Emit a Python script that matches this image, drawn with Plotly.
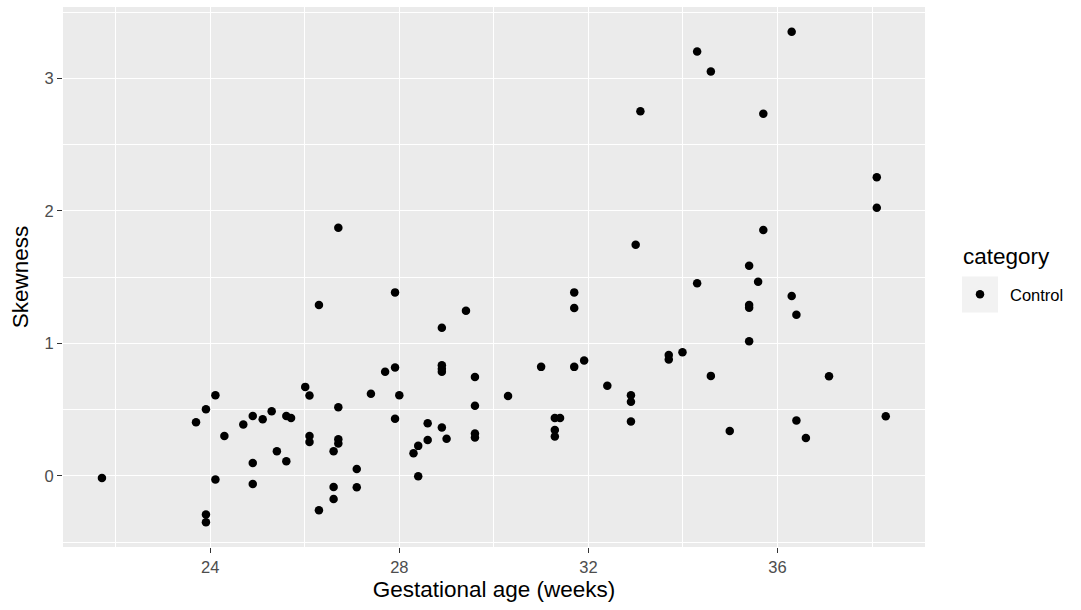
import plotly.graph_objects as go

# Gestational age (weeks) and skewness values
gest_age = [
    21.71, 26.30, 23.70, 23.91, 24.11, 24.30, 24.11, 23.91, 23.91, 24.70,
    24.90, 25.11, 25.30, 24.90, 24.90, 25.41, 25.61, 25.61, 25.71, 26.01,
    26.10, 26.10, 26.10, 26.30, 26.61, 26.61, 26.61, 26.71, 26.71, 26.71,
    27.10, 27.10, 26.71,
    27.91, 29.41, 28.90, 27.70, 27.91, 27.40, 28.00, 27.91, 28.90, 28.90,
    28.90, 29.60, 29.60, 29.60, 29.60, 28.60, 28.90, 29.00, 28.60, 28.40,
    28.30, 28.40, 30.30, 31.00, 31.70, 31.70, 31.70, 31.91, 32.40, 32.90,
    32.90, 32.90, 31.29, 31.40, 31.29, 31.29, 33.10, 33.00,
    36.30, 34.30, 34.59, 35.70, 38.10, 38.10, 35.70, 35.40, 34.30, 35.59,
    36.30, 35.40, 35.40, 36.40, 35.40, 33.99, 33.70, 33.70, 34.59, 37.09,
    38.29, 34.99, 36.40, 36.60,
]
skewness = [
    -0.015, 1.289, 0.406, 0.504, 0.609, 0.302, -0.027, -0.290, -0.350, 0.388,
    0.453, 0.428, 0.489, 0.098, -0.060, 0.186, 0.111, 0.453, 0.438, 0.672,
    0.607, 0.302, 0.257, -0.259, 0.186, -0.083, -0.174, 0.519, 0.277, 0.245,
    0.053, -0.085, 1.873,
    1.385, 1.246, 1.118, 0.786, 0.819, 0.620, 0.609, 0.431, 0.836, 0.808,
    0.786, 0.746, 0.529, 0.320, 0.290, 0.398, 0.366, 0.280, 0.272, 0.227,
    0.171, -0.002, 0.604, 0.823, 1.385, 1.267, 0.823, 0.871, 0.680, 0.609,
    0.559, 0.411, 0.438, 0.438, 0.347, 0.298, 2.752, 1.745,
    3.351, 3.202, 3.051, 2.732, 2.254, 2.024, 1.856, 1.586, 1.453, 1.466,
    1.357, 1.289, 1.269, 1.216, 1.017, 0.934, 0.912, 0.879, 0.755, 0.753,
    0.451, 0.340, 0.418, 0.287,
]
category_name = "Control"
legend_title = "category"
x_ticks = [24, 28, 32, 36]
y_ticks = [0, 1, 2, 3]

W, H = 1081, 610
ml, mr, mt, mb = 63, 156, 7, 63
pw, ph = W - ml - mr, H - mt - mb

def px2paper_x(px):
    return (px - ml) / pw

def px2paper_y(py):
    return (H - mb - py) / ph

font_family = "Liberation Sans, Arial, sans-serif"
TICK_SIZE = 16.5
TITLE_SIZE = 22.5

fig = go.Figure()
fig.add_trace(go.Scatter(
    x=gest_age, y=skewness, mode="markers", name=category_name,
    marker=dict(color="black", size=8.5, line=dict(width=0)),
    showlegend=True,
))

fig.update_layout(
    width=W, height=H,
    margin=dict(l=ml, r=mr, t=mt, b=mb, pad=0),
    paper_bgcolor="white",
    plot_bgcolor="#EBEBEB",
    font=dict(family=font_family, color="#4D4D4D"),
    xaxis=dict(
        range=[20.886, 39.12],
        tickvals=x_ticks, ticktext=[str(v) for v in x_ticks],
        showgrid=True, gridcolor="white", gridwidth=1.2,
        minor=dict(tickvals=[22, 26, 30, 34, 38], showgrid=True,
                   gridcolor="white", gridwidth=0.6, ticks=""),
        zeroline=False, showline=False,
        ticks="outside", ticklen=5, tickcolor="#333333", tickwidth=1.1,
        tickfont=dict(size=TICK_SIZE, color="#4D4D4D"),
        title=dict(text="Gestational age (weeks)",
                   font=dict(size=TITLE_SIZE, color="black"), standoff=6),
    ),
    yaxis=dict(
        range=[-0.536, 3.538],
        tickvals=y_ticks, ticktext=[str(v) for v in y_ticks],
        showgrid=True, gridcolor="white", gridwidth=1.2,
        minor=dict(tickvals=[-0.5, 0.5, 1.5, 2.5, 3.5], showgrid=True,
                   gridcolor="white", gridwidth=0.6, ticks=""),
        zeroline=False, showline=False,
        ticks="outside", ticklen=5, tickcolor="#333333", tickwidth=1.1,
        tickfont=dict(size=TICK_SIZE, color="#4D4D4D"),
        title=dict(text="Skewness", font=dict(size=TITLE_SIZE, color="black"),
                   standoff=9),
    ),
    legend=dict(
        x=px2paper_x(950), xanchor="left",
        y=px2paper_y(294.5), yanchor="middle",
        bgcolor="rgba(0,0,0,0)",
        font=dict(size=TICK_SIZE, color="black"),
        itemsizing="trace",
        itemwidth=50,
    ),
    annotations=[dict(
        text=legend_title, xref="paper", yref="paper",
        x=px2paper_x(961), y=px2paper_y(256),
        xanchor="left", yanchor="middle", showarrow=False,
        font=dict(size=TITLE_SIZE, color="black", family=font_family),
    )],
    shapes=[dict(
        type="rect", xref="paper", yref="paper",
        x0=px2paper_x(962), x1=px2paper_x(998),
        y0=px2paper_y(312.5), y1=px2paper_y(276.5),
        fillcolor="#F2F2F2", line=dict(width=0), layer="below",
    )],
)

fig.write_html("out.html")
